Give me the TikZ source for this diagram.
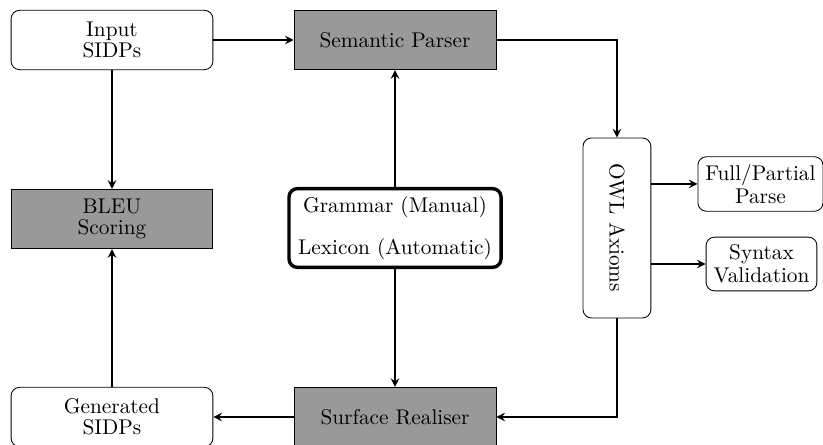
\documentclass[tikz,border=0pt]{standalone}
\usepackage{tikz}
\usetikzlibrary{shapes,arrows}
\tikzstyle{io} = [draw, thin, fill=white, text centered, align=center, rounded corners, minimum width=3.33cm, minimum height=0.98cm]
\tikzstyle{stage} = [draw, thin, fill=black!40, text centered, align=center, minimum width=3.33cm, minimum height=0.98cm]
\tikzstyle{check} = [draw, thin, text centered, align=center, rounded corners, inner sep=3.5pt]
\tikzstyle{line} = [draw, thick, -stealth]

\begin{document}
\begin{tikzpicture}
\useasboundingbox (0,0) rectangle (13.58,-7.34);
% boxes
\node [io] (input) at (1.848,-0.660) {Input\\[-2pt]SIDPs};
\node [stage] (parser) at (6.518,-0.660) {Semantic Parser};
\node [stage] (bleu) at (1.848,-3.614) {BLEU\\[-2pt]Scoring};
\node [draw, ultra thick, rounded corners, align=center, minimum width=3.5cm, minimum height=1.3cm] (grammar) at (6.518,-3.762) {Grammar (Manual)\\[8pt]Lexicon (Automatic)};
\node [draw, thin, rounded corners, rotate=-90, minimum width=2.97cm, minimum height=1.12cm] (owl) at (10.18,-3.762) {OWL Axioms};
\node [check] (parse) at (12.548,-3.036) {Full/Partial\\[-1pt]Parse};
\node [check] (syntax) at (12.565,-4.356) {Syntax\\[-1pt]Validation};
\node [io] (generated) at (1.848,-6.881) {Generated\\[-2pt]SIDPs};
\node [stage] (realiser) at (6.518,-6.881) {Surface Realiser};
% connectors
\path [line] (input) -- (parser);
\path [line] (input) -- (bleu);
\path [line] (generated) -- (bleu);
\path [line] (grammar) -- (parser);
\path [line] (grammar) -- (realiser);
\path [line] (parser.east) -| (owl.west);
\path [line] (owl.east) |- (realiser.east);
\path [line] (realiser) -- (generated);
\path [line] (parse.west -| owl.north) -- (parse.west);
\path [line] (syntax.west -| owl.north) -- (syntax.west);
\end{tikzpicture}
\end{document}
